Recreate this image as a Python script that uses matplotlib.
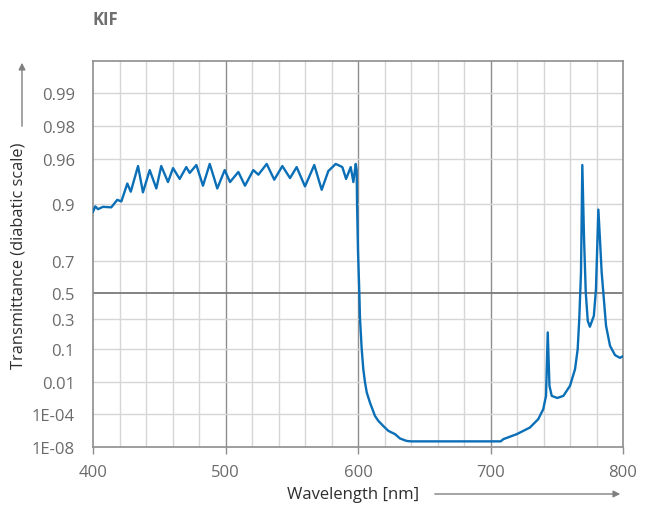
import numpy as np
import matplotlib
matplotlib.use("Agg")
import matplotlib.pyplot as plt

plt.rcParams['font.family'] = ['Open Sans', 'DejaVu Sans']

# ---- data ----
wavelength = [400, 401.7, 403.8, 407.5, 413.8, 418.3, 421.4, 425.9, 428.5, 434.0,
              437.7, 442.8, 447.8, 451.5, 456.6, 460.4, 465.4, 470.4, 473.0, 478.0,
              483.0, 488.1, 493.8, 499.4, 503.4, 509.7, 514.7, 521.0, 524.8, 531.1,
              536.8, 542.9, 548.7, 553.7, 560.0, 567.0, 572.6, 577.6, 583.2, 588.2,
              591.0, 594.5, 596.5, 598.3, 599.0, 599.3, 600.0, 601.0, 601.5, 602.8,
              604.0, 605.3, 606.6, 609.0, 612.8, 615.3, 619.0, 622.9, 628.0, 631.7,
              636.7, 640.0, 670.0, 707.7, 709.7, 719.8, 729.8, 736.0, 739.8, 741.9,
              743.2, 744.5, 746.2, 750.4, 755.0, 760.0, 763.8, 765.8, 767.0, 768.3,
              769.3, 770.6, 771.9, 773.4, 775.0, 778.0, 779.6, 781.4, 782.6, 783.9,
              787.2, 790.2, 794.0, 797.7, 800.0]
transmittance = [0.883, 0.895, 0.889, 0.894, 0.893, 0.908, 0.905, 0.934, 0.922, 0.954,
                 0.921, 0.950, 0.927, 0.954, 0.936, 0.952, 0.940, 0.953, 0.947, 0.955,
                 0.931, 0.956, 0.927, 0.950, 0.936, 0.948, 0.931, 0.950, 0.945, 0.956,
                 0.939, 0.954, 0.941, 0.953, 0.930, 0.955, 0.925, 0.949, 0.956, 0.953,
                 0.940, 0.953, 0.936, 0.956, 0.950, 0.90, 0.75, 0.5, 0.3, 0.1,
                 0.0295, 0.0093, 0.0031, 7.8e-4, 7.4e-5, 2.6e-5, 7.8e-6, 2.1e-6, 8.1e-7, 2.1e-7,
                 9.3e-8, 8e-8, 8e-8, 8e-8, 1.7e-7, 8.1e-7, 5.2e-6, 3.7e-5, 2.6e-4, 2.0e-3,
                 0.199, 6.6e-3, 2.0e-3, 1.5e-3, 2.0e-3, 6.6e-3, 0.0295, 0.1, 0.3, 0.637,
                 0.955, 0.801, 0.5, 0.283, 0.239, 0.321, 0.526, 0.888, 0.801, 0.637,
                 0.246, 0.117, 0.073, 0.0627, 0.069]

y_ticks = [1e-8, 1e-4, 0.01, 0.1, 0.3, 0.5, 0.7, 0.9, 0.96, 0.98, 0.99]
y_tick_labels = ["1E-08", "1E-04", "0.01", "0.1", "0.3", "0.5", "0.7", "0.9", "0.96", "0.98", "0.99"]
x_ticks = [400, 500, 600, 700, 800]


# diabatic scale: -log10(log10(1/T))
def fwd(t):
    t = np.clip(np.asarray(t, dtype=float), 1e-300, 1 - 1e-12)
    return -np.log10(-np.log10(t))


def inv(y):
    y = np.asarray(y, dtype=float)
    return 10.0 ** (-(10.0 ** (-y)))


W, H = 648, 506
fig = plt.figure(figsize=(W / 100, H / 100), dpi=100)
ax = fig.add_axes([93 / W, 1 - 448 / H, (623 - 93) / W, (448 - 62) / H])
ax.set_yscale('function', functions=(fwd, inv))
ax.set_xlim(400, 800)
ax.set_ylim(1e-8, 0.99496)

# grid
for xv in range(420, 800, 20):
    if xv % 100 == 0:
        ax.axvline(xv, color='#8e8e8e', lw=1.0, zorder=1)
    else:
        ax.axvline(xv, color='#d6d6d6', lw=1.0, zorder=1)
for yv in y_ticks[1:]:
    if yv == 0.5:
        ax.axhline(yv, color='#7a7a7a', lw=1.3, zorder=1)
    else:
        ax.axhline(yv, color='#d6d6d6', lw=1.0, zorder=1)

ax.plot(wavelength, transmittance, color='#0a6fb7', lw=1.7, zorder=3,
        solid_joinstyle='round')

ax.set_yticks(y_ticks)
ax.set_yticklabels(y_tick_labels)
ax.yaxis.set_minor_locator(matplotlib.ticker.NullLocator())
ax.set_xticks(x_ticks)
ax.tick_params(axis='y', length=0, pad=13, labelsize=12, labelcolor='#6b6b6b')
ax.tick_params(axis='x', length=5, width=1, color='#8e8e8e', pad=7,
               labelsize=12, labelcolor='#6b6b6b')
for s in ax.spines.values():
    s.set_color('#8e8e8e')
    s.set_linewidth(1.2)

# title
fig.text(93 / W, 1 - 20 / H, 'KIF', fontsize=12, fontweight='bold',
         color='#6f6f6f', ha='left', va='center')

# y label + arrow
fig.text(19 / W, 1 - 256 / H, 'Transmittance (diabatic scale)', rotation=90,
         fontsize=11.8, color='#2e2e2e', ha='center', va='center')
fig.add_artist(matplotlib.patches.FancyArrowPatch(
    (22 / W, 1 - 130 / H), (22 / W, 1 - 61 / H), transform=fig.transFigure,
    arrowstyle='-|>', mutation_scale=10, color='#808080', lw=1.0))

# x label + arrow
fig.text(353 / W, 1 - 495 / H, 'Wavelength [nm]', fontsize=12, color='#2e2e2e',
         ha='center', va='center')
fig.add_artist(matplotlib.patches.FancyArrowPatch(
    (432 / W, 1 - 495 / H), (623 / W, 1 - 495 / H), transform=fig.transFigure,
    arrowstyle='-|>', mutation_scale=10, color='#808080', lw=1.0))

fig.savefig('out.png', dpi=100)
